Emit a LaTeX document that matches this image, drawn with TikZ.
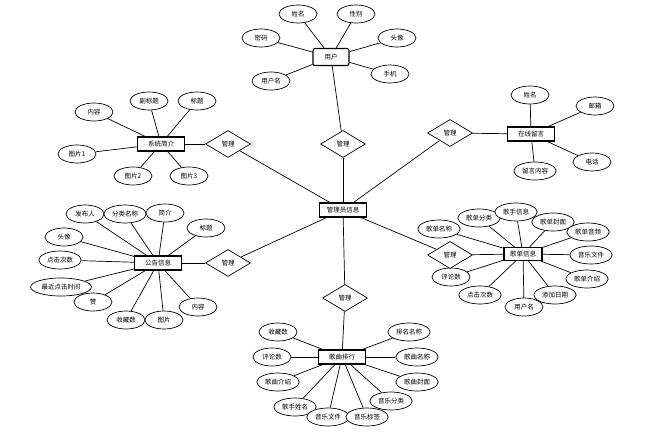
\documentclass[tikz,border=0pt]{standalone}
\usepackage{fontspec}
\newfontfamily\cjk{Noto Sans CJK SC}
\usetikzlibrary{shapes.geometric, backgrounds}

\begin{document}
\begin{tikzpicture}[x=1pt, y=-1pt, font=\cjk\fontsize{6.5}{7}\selectfont,
    entity/.style={draw, line width=1.1pt, fill=white, minimum width=47pt, minimum height=14pt, inner sep=1pt},
    attr/.style={draw, ellipse, fill=white, line width=0.7pt, minimum width=38pt, minimum height=18pt, inner xsep=2pt, inner ysep=0.5pt},
    rel/.style={draw, diamond, fill=white, line width=0.7pt, aspect=1.7, minimum width=45pt, minimum height=27pt, inner sep=0pt},
    link/.style={line width=0.7pt}
]
\useasboundingbox (0,0) rectangle (645,442);

% Centre
\node[entity] (admin) at (343,210) {管理员信息};

% User
\node[entity, rounded corners=2pt, minimum width=36pt, minimum height=17pt] (user) at (331,57) {用户};
\node[attr] (u1) at (298,14) {姓名};
\node[attr] (u2) at (356,14) {性别};
\node[attr] (u3) at (261,38) {密码};
\node[attr] (u4) at (397,38) {头像};
\node[attr] (u5) at (271,81) {用户名};
\node[attr] (u6) at (390,74) {手机};
\node[rel] (rUser) at (343,144) {管理};

% System intro
\node[entity] (intro) at (161,144) {系统简介};
\node[attr] (s1) at (94,112) {内容};
\node[attr] (s2) at (149,101) {副标题};
\node[attr] (s3) at (197,101) {标题};
\node[attr] (s4) at (77,154) {图片1};
\node[attr] (s5) at (133,176) {图片2};
\node[attr] (s6) at (189,176) {图片3};
\node[rel] (rIntro) at (228,144) {管理};

% Notice
\node[entity] (notice) at (158,263) {公告信息};
\node[attr] (n1) at (85,214) {发布人};
\node[attr] (n2) at (125,214) {分类名称};
\node[attr] (n3) at (165,213) {简介};
\node[attr] (n4) at (206,228) {标题};
\node[attr] (n5) at (64,237) {头像};
\node[attr] (n6) at (60,260) {点击次数};
\node[attr] (n7) at (61,287) {最近点击时间};
\node[attr] (n8) at (93,302) {赞};
\node[attr] (n9) at (126,320) {收藏数};
\node[attr] (n10) at (164,320) {图片};
\node[attr] (n11) at (198,307) {内容};
\node[rel] (rNotice) at (228,263) {管理};

% Messages
\node[entity] (msg) at (531,134) {在线留言};
\node[attr] (m1) at (530,95) {姓名};
\node[attr] (m2) at (595,106) {邮箱};
\node[attr] (m3) at (592,162) {电话};
\node[attr] (m4) at (535,171) {留言内容};
\node[rel] (rMsg) at (450,133) {管理};

% Song lists
\node[entity, minimum width=38pt, minimum height=13pt] (list) at (523,254) {歌单信息};
\node[attr] (l1) at (439,229) {歌单名称};
\node[attr] (l2) at (479,218) {歌单分类};
\node[attr] (l3) at (516,212) {歌手信息};
\node[attr] (l4) at (553,222) {歌单封面};
\node[attr] (l5) at (588,232) {歌单音频};
\node[attr] (l6) at (591,255) {音乐文件};
\node[attr] (l7) at (587,279) {歌单介绍};
\node[attr] (l8) at (555,295) {添加日期};
\node[attr] (l9) at (524,307) {用户名};
\node[attr] (l10) at (480,295) {点击次数};
\node[attr] (l11) at (451,277) {评论数};
\node[rel] (rList) at (450,255) {管理};

% Song ranking
\node[entity] (rank) at (342,357) {歌曲排行};
\node[attr] (k1) at (278,332) {收藏数};
\node[attr] (k2) at (272,357) {评论数};
\node[attr] (k3) at (278,382) {歌曲介绍};
\node[attr] (k4) at (295,407) {歌手姓名};
\node[attr] (k5) at (328,417) {音乐文件};
\node[attr] (k6) at (367,417) {音乐标签};
\node[attr] (k7) at (391,401) {音乐分类};
\node[attr] (k8) at (417,382) {歌曲封面};
\node[attr] (k9) at (417,357) {歌曲名称};
\node[attr] (k10) at (409,332) {排名名称};
\node[rel] (rRank) at (345,298) {管理};

% Connectors
\begin{scope}[on background layer]
\foreach \i in {1,...,6} {
    \draw[link] (u\i) -- (user);
    \draw[link] (s\i) -- (intro);
}
\foreach \i in {1,...,11} {
    \draw[link] (n\i) -- (notice);
    \draw[link] (l\i) -- (list);
}
\foreach \i in {1,...,4}
    \draw[link] (m\i) -- (msg);
\foreach \i in {1,...,10}
    \draw[link] (k\i) -- (rank);
\foreach \e/\r in {user/rUser, intro/rIntro, notice/rNotice, msg/rMsg, list/rList, rank/rRank} {
    \draw[link] (\e) -- (\r);
    \draw[link] (\r) -- (admin);
}
\end{scope}

\end{tikzpicture}
\end{document}
